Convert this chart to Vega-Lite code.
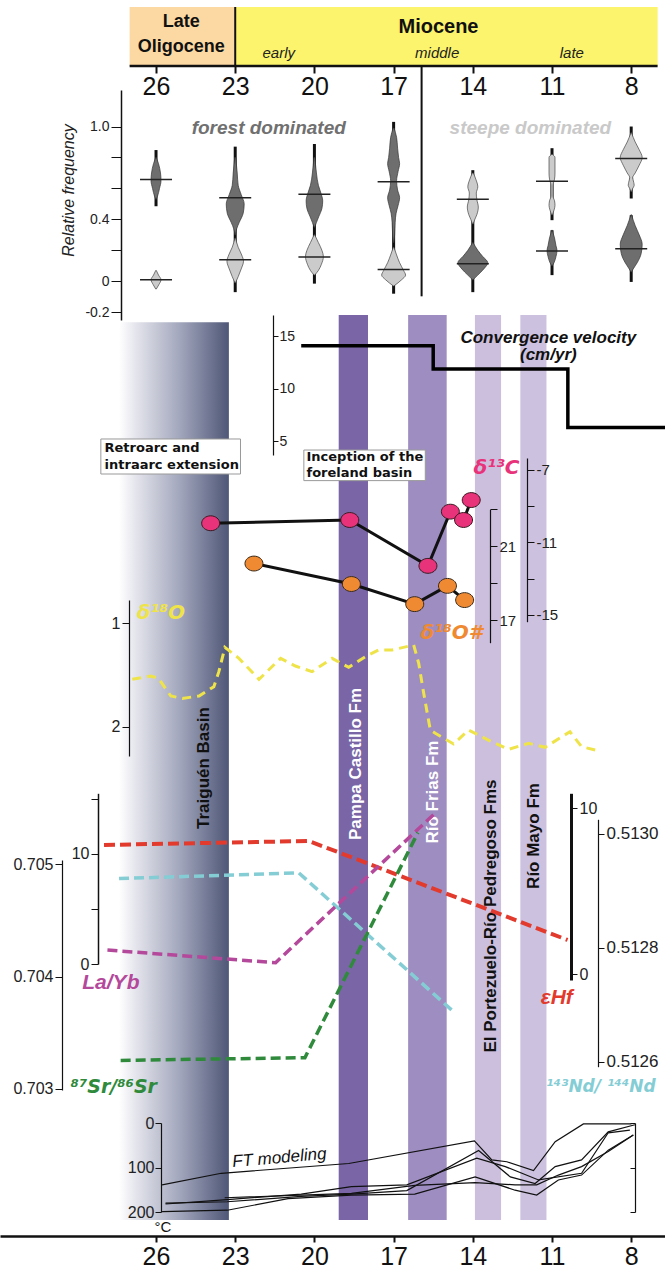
{
"$schema":"https://vega.github.io/schema/vega-lite/v6.json",
"width":665,"height":1272,"padding":0,"autosize":"none","background":"white",
"config":{"view":{"stroke":null},"axis":{"grid":false,"labelFont":"Liberation Sans","titleFont":"Liberation Sans","domainColor":"#111","tickColor":"#111","labelColor":"#222","title":null},"text":{"font":"Liberation Sans"}},
"datasets":{
"violD":[
{"g":"26","v":0.80,"lo":25.989,"hi":26.011},{"g":"26","v":0.76,"lo":25.905,"hi":26.095},{"g":"26","v":0.70,"lo":25.830,"hi":26.170},{"g":"26","v":0.65,"lo":25.811,"hi":26.189},{"g":"26","v":0.60,"lo":25.868,"hi":26.132},{"g":"26","v":0.55,"lo":25.943,"hi":26.057},{"g":"26","v":0.53,"lo":25.989,"hi":26.011},
{"g":"23","v":0.80,"lo":22.981,"hi":23.019},{"g":"23","v":0.70,"lo":22.924,"hi":23.076},{"g":"23","v":0.62,"lo":22.887,"hi":23.113},{"g":"23","v":0.56,"lo":22.773,"hi":23.227},{"g":"23","v":0.50,"lo":22.660,"hi":23.340},{"g":"23","v":0.44,"lo":22.697,"hi":23.303},{"g":"23","v":0.38,"lo":22.849,"hi":23.151},{"g":"23","v":0.34,"lo":22.943,"hi":23.057},{"g":"23","v":0.30,"lo":22.989,"hi":23.011},
{"g":"20","v":0.80,"lo":19.981,"hi":20.019},{"g":"20","v":0.70,"lo":19.924,"hi":20.076},{"g":"20","v":0.62,"lo":19.849,"hi":20.151},{"g":"20","v":0.57,"lo":19.754,"hi":20.246},{"g":"20","v":0.52,"lo":19.686,"hi":20.314},{"g":"20","v":0.47,"lo":19.716,"hi":20.284},{"g":"20","v":0.42,"lo":19.830,"hi":20.170},{"g":"20","v":0.38,"lo":19.924,"hi":20.076},{"g":"20","v":0.35,"lo":19.989,"hi":20.011},
{"g":"17","v":0.99,"lo":16.981,"hi":17.019},{"g":"17","v":0.93,"lo":16.887,"hi":17.113},{"g":"17","v":0.86,"lo":16.849,"hi":17.151},{"g":"17","v":0.80,"lo":16.811,"hi":17.189},{"g":"17","v":0.76,"lo":16.773,"hi":17.227},{"g":"17","v":0.71,"lo":16.830,"hi":17.170},{"g":"17","v":0.65,"lo":16.887,"hi":17.113},{"g":"17","v":0.59,"lo":16.849,"hi":17.151},{"g":"17","v":0.54,"lo":16.773,"hi":17.227},{"g":"17","v":0.49,"lo":16.830,"hi":17.170},{"g":"17","v":0.44,"lo":16.905,"hi":17.095},{"g":"17","v":0.38,"lo":16.943,"hi":17.057},{"g":"17","v":0.30,"lo":16.962,"hi":17.038},{"g":"17","v":0.25,"lo":16.989,"hi":17.011},
{"g":"14","v":0.25,"lo":13.989,"hi":14.011},{"g":"14","v":0.20,"lo":13.811,"hi":14.189},{"g":"14","v":0.16,"lo":13.622,"hi":14.378},{"g":"14","v":0.12,"lo":13.433,"hi":14.567},{"g":"14","v":0.08,"lo":13.584,"hi":14.416},{"g":"14","v":0.04,"lo":13.811,"hi":14.189},{"g":"14","v":0.01,"lo":13.989,"hi":14.011},
{"g":"11","v":0.33,"lo":10.989,"hi":11.011},{"g":"11","v":0.28,"lo":10.905,"hi":11.095},{"g":"11","v":0.23,"lo":10.849,"hi":11.151},{"g":"11","v":0.20,"lo":10.811,"hi":11.189},{"g":"11","v":0.16,"lo":10.849,"hi":11.151},{"g":"11","v":0.12,"lo":10.924,"hi":11.076},{"g":"11","v":0.10,"lo":10.989,"hi":11.011},
{"g":"8","v":0.43,"lo":7.989,"hi":8.011},{"g":"8","v":0.36,"lo":7.849,"hi":8.151},{"g":"8","v":0.30,"lo":7.697,"hi":8.303},{"g":"8","v":0.24,"lo":7.584,"hi":8.416},{"g":"8","v":0.18,"lo":7.622,"hi":8.378},{"g":"8","v":0.12,"lo":7.773,"hi":8.227},{"g":"8","v":0.08,"lo":7.924,"hi":8.076},{"g":"8","v":0.06,"lo":7.989,"hi":8.011}
],
"violL":[
{"g":"26","v":0.07,"lo":25.989,"hi":26.011},{"g":"26","v":0.04,"lo":25.905,"hi":26.095},{"g":"26","v":0.01,"lo":25.811,"hi":26.189},{"g":"26","v":-0.02,"lo":25.887,"hi":26.113},{"g":"26","v":-0.05,"lo":25.989,"hi":26.011},
{"g":"23","v":0.28,"lo":22.989,"hi":23.011},{"g":"23","v":0.22,"lo":22.887,"hi":23.113},{"g":"23","v":0.17,"lo":22.754,"hi":23.246},{"g":"23","v":0.13,"lo":22.686,"hi":23.314},{"g":"23","v":0.08,"lo":22.773,"hi":23.227},{"g":"23","v":0.03,"lo":22.887,"hi":23.113},{"g":"23","v":-0.01,"lo":22.989,"hi":23.011},
{"g":"20","v":0.30,"lo":19.989,"hi":20.011},{"g":"20","v":0.25,"lo":19.849,"hi":20.151},{"g":"20","v":0.20,"lo":19.716,"hi":20.284},{"g":"20","v":0.16,"lo":19.660,"hi":20.340},{"g":"20","v":0.11,"lo":19.735,"hi":20.265},{"g":"20","v":0.07,"lo":19.849,"hi":20.151},{"g":"20","v":0.04,"lo":19.989,"hi":20.011},
{"g":"17","v":0.22,"lo":16.989,"hi":17.011},{"g":"17","v":0.17,"lo":16.887,"hi":17.113},{"g":"17","v":0.12,"lo":16.773,"hi":17.227},{"g":"17","v":0.07,"lo":16.622,"hi":17.378},{"g":"17","v":0.04,"lo":16.546,"hi":17.454},{"g":"17","v":0.01,"lo":16.697,"hi":17.303},{"g":"17","v":-0.03,"lo":16.989,"hi":17.011},
{"g":"14","v":0.70,"lo":13.981,"hi":14.019},{"g":"14","v":0.66,"lo":13.887,"hi":14.113},{"g":"14","v":0.61,"lo":13.811,"hi":14.189},{"g":"14","v":0.57,"lo":13.868,"hi":14.132},{"g":"14","v":0.53,"lo":13.849,"hi":14.151},{"g":"14","v":0.48,"lo":13.792,"hi":14.208},{"g":"14","v":0.43,"lo":13.849,"hi":14.151},{"g":"14","v":0.40,"lo":13.924,"hi":14.076},{"g":"14","v":0.37,"lo":13.989,"hi":14.011},
{"g":"11","v":0.82,"lo":10.981,"hi":11.019},{"g":"11","v":0.80,"lo":10.887,"hi":11.113},{"g":"11","v":0.70,"lo":10.887,"hi":11.113},{"g":"11","v":0.66,"lo":10.905,"hi":11.095},{"g":"11","v":0.62,"lo":10.962,"hi":11.038},{"g":"11","v":0.55,"lo":10.962,"hi":11.038},{"g":"11","v":0.52,"lo":10.905,"hi":11.095},{"g":"11","v":0.49,"lo":10.887,"hi":11.113},{"g":"11","v":0.46,"lo":10.924,"hi":11.076},{"g":"11","v":0.43,"lo":10.981,"hi":11.019},
{"g":"8","v":0.96,"lo":7.989,"hi":8.011},{"g":"8","v":0.90,"lo":7.849,"hi":8.151},{"g":"8","v":0.85,"lo":7.697,"hi":8.303},{"g":"8","v":0.80,"lo":7.584,"hi":8.416},{"g":"8","v":0.75,"lo":7.697,"hi":8.303},{"g":"8","v":0.70,"lo":7.849,"hi":8.151},{"g":"8","v":0.67,"lo":7.943,"hi":8.057},{"g":"8","v":0.64,"lo":7.905,"hi":8.095},{"g":"8","v":0.62,"lo":7.887,"hi":8.113},{"g":"8","v":0.60,"lo":7.943,"hi":8.057},{"g":"8","v":0.58,"lo":7.989,"hi":8.011}
],
"whisk":[{"age":26,"top":0.848,"bottom":0.485},{"age":23,"top":0.87,"bottom":-0.07},{"age":20,"top":0.887,"bottom":-0.015},{"age":17,"top":1.03,"bottom":-0.08},{"age":14,"top":0.718,"bottom":-0.07},{"age":11,"top":0.86,"bottom":0.395},{"age":11,"top":0.33,"bottom":0.04},{"age":8,"top":1.0,"bottom":0.535},{"age":8,"top":0.427,"bottom":-0.004}],
"med":[{"age":26,"v":0.658},{"age":26,"v":0.01},{"age":23,"v":0.54},{"age":23,"v":0.14},{"age":20,"v":0.563},{"age":20,"v":0.157},{"age":17,"v":0.643},{"age":17,"v":0.076},{"age":14,"v":0.53},{"age":14,"v":0.114},{"age":11,"v":0.647},{"age":11,"v":0.196},{"age":8,"v":0.794},{"age":8,"v":0.21}],
"fms":[{"name":"Pampa Castillo Fm","age":19.08,"age2":17.97},{"name":"Río Frias Fm","age":16.45,"age2":14.99},{"name":"El Portezuelo-Río Pedregoso Fms","age":13.92,"age2":12.93},{"name":"Río Mayo Fm","age":12.2,"age2":11.21}],
"conv":[{"i":1,"age":20.5,"v":14.08},{"i":2,"age":15.5,"v":14.08},{"i":3,"age":15.5,"v":11.86},{"i":4,"age":10.4,"v":11.86},{"i":5,"age":10.4,"v":6.3},{"i":6,"age":6.72,"v":6.3}],
"d13":[{"age":23.93,"v":-9.94},{"age":18.66,"v":-9.76},{"age":15.70,"v":-12.29},{"age":14.85,"v":-9.30},{"age":14.35,"v":-9.76},{"age":14.06,"v":-8.66}],
"d18h":[{"age":22.29,"v":20.06},{"age":18.6,"v":18.95},{"age":16.2,"v":17.86},{"age":14.96,"v":18.85},{"age":14.31,"v":18.08}],
"d18":[{"age":26.90,"v":1.542},{"age":26.20,"v":1.510},{"age":25.91,"v":1.532},{"age":25.44,"v":1.703},{"age":25.00,"v":1.726},{"age":24.37,"v":1.703},{"age":23.81,"v":1.613},{"age":23.62,"v":1.468},{"age":23.39,"v":1.232},{"age":22.86,"v":1.339},{"age":22.10,"v":1.542},{"age":21.28,"v":1.339},{"age":20.72,"v":1.413},{"age":20.09,"v":1.468},{"age":19.33,"v":1.339},{"age":18.70,"v":1.426},{"age":18.07,"v":1.323},{"age":17.57,"v":1.258},{"age":17.06,"v":1.258},{"age":16.24,"v":1.210},{"age":16.05,"v":1.387},{"age":15.86,"v":1.677},{"age":15.61,"v":2.032},{"age":15.42,"v":2.064},{"age":14.73,"v":2.167},{"age":14.16,"v":2.032},{"age":13.41,"v":2.129},{"age":12.65,"v":2.219},{"age":11.89,"v":2.161},{"age":11.26,"v":2.199},{"age":10.32,"v":2.048},{"age":9.88,"v":2.193},{"age":9.25,"v":2.232}],
"hf":[{"age":27.97,"v":7.79},{"age":20.21,"v":8.03},{"age":10.41,"v":2.07}],
"nd":[{"age":27.40,"v":0.512921},{"age":20.59,"v":0.512931},{"age":14.79,"v":0.51269}],
"layb":[{"age":27.84,"v":1.27},{"age":21.47,"v":0.12},{"age":15.49,"v":13.55}],
"sr":[{"age":27.34,"v":0.703254},{"age":20.36,"v":0.703278},{"age":16.08,"v":0.705284}],
"ft":[
{"id":1,"age":25.77,"T":139},{"id":1,"age":23.53,"T":113},{"id":1,"age":18.7,"T":91},{"id":1,"age":13.94,"T":40},{"id":1,"age":13.28,"T":83},{"id":1,"age":12.71,"T":87},{"id":1,"age":11.7,"T":107},{"id":1,"age":10.88,"T":42},{"id":1,"age":9.81,"T":2},{"id":1,"age":7.99,"T":2},
{"id":2,"age":25.64,"T":180},{"id":2,"age":23.3,"T":177},{"id":2,"age":20.5,"T":165},{"id":2,"age":18.6,"T":160},{"id":2,"age":16.5,"T":152},{"id":2,"age":13.78,"T":62},{"id":2,"age":12.58,"T":121},{"id":2,"age":11.64,"T":136},{"id":2,"age":10.88,"T":98},{"id":2,"age":9.88,"T":83},{"id":2,"age":8.87,"T":20},{"id":2,"age":7.86,"T":4},
{"id":3,"age":25.64,"T":182},{"id":3,"age":23.3,"T":172},{"id":3,"age":20.5,"T":160},{"id":3,"age":18.6,"T":143},{"id":3,"age":16.5,"T":139},{"id":3,"age":13.85,"T":79},{"id":3,"age":12.77,"T":98},{"id":3,"age":11.51,"T":128},{"id":3,"age":9.88,"T":113},{"id":3,"age":8.87,"T":22},{"id":3,"age":8.05,"T":16},
{"id":4,"age":25.77,"T":199},{"id":4,"age":23.3,"T":196},{"id":4,"age":21.0,"T":170},{"id":4,"age":18.6,"T":162},{"id":4,"age":16.2,"T":160},{"id":4,"age":13.91,"T":121},{"id":4,"age":12.4,"T":151},{"id":4,"age":11.58,"T":162},{"id":4,"age":10.76,"T":128},{"id":4,"age":9.88,"T":117},{"id":4,"age":8.87,"T":61},{"id":4,"age":7.92,"T":27},
{"id":5,"age":23.4,"T":168},{"id":5,"age":20.5,"T":162},{"id":5,"age":18.6,"T":158},{"id":5,"age":16.2,"T":140},{"id":5,"age":13.91,"T":134},{"id":5,"age":12.4,"T":139},{"id":5,"age":11.58,"T":139},{"id":5,"age":10.76,"T":117},{"id":5,"age":9.88,"T":98},{"id":5,"age":8.87,"T":64},{"id":5,"age":7.92,"T":27}
]
},
"encoding":{"x":{"field":"age","type":"quantitative","scale":{"domain":[6.72,31.91],"reverse":true,"nice":false,"zero":false},"axis":null}},
"layer":[
{"data":{"values":[{"name":"Traiguén Basin","age":27.4,"age2":23.24}]},
 "mark":{"type":"rect","fill":{"gradient":"linear","x1":0,"y1":0,"x2":1,"y2":0,"stops":[{"offset":0,"color":"#ffffff"},{"offset":0.2,"color":"#dcdde6"},{"offset":0.55,"color":"#a3a7bd"},{"offset":1,"color":"#4f5777"}]}},
 "encoding":{"x2":{"field":"age2"},"y":{"datum":0,"type":"quantitative","scale":{"domain":[0,1],"range":[1220,315],"nice":false,"zero":false},"axis":null},"y2":{"datum":0.992}}},
{"data":{"name":"fms"},"mark":{"type":"rect"},
 "encoding":{"x2":{"field":"age2"},"y":{"datum":0,"type":"quantitative","scale":{"domain":[0,1],"range":[1220,315],"nice":false,"zero":false},"axis":null},"y2":{"datum":1},
 "color":{"field":"name","type":"nominal","scale":{"domain":["Pampa Castillo Fm","Río Frias Fm","El Portezuelo-Río Pedregoso Fms","Río Mayo Fm"],"range":["#7a66a6","#9e8dc1","#cbbfdd","#ccc1de"]},"legend":null}}},
{"data":{"values":[{"t":"Traiguén Basin","age":24.18,"f":0.4994},{"t":"El Portezuelo-Río Pedregoso Fms","age":13.31,"f":0.3359},{"t":"Río Mayo Fm","age":11.67,"f":0.4243}]},
 "mark":{"type":"text","angle":270,"align":"center","baseline":"middle","fontSize":17,"fontWeight":"bold","color":"#111"},
 "encoding":{"text":{"field":"t"},"y":{"field":"f","type":"quantitative","scale":{"domain":[0,1],"range":[1220,315],"nice":false,"zero":false},"axis":null}}},
{"data":{"values":[{"t":"Pampa Castillo Fm","age":18.44,"f":0.5039},{"t":"Río Frias Fm","age":15.49,"f":0.4729}]},
 "mark":{"type":"text","angle":270,"align":"center","baseline":"middle","fontSize":17,"fontWeight":"bold","color":"#ffffff"},
 "encoding":{"text":{"field":"t"},"y":{"field":"f","type":"quantitative","scale":{"domain":[0,1],"range":[1220,315],"nice":false,"zero":false},"axis":null}}},
{"data":{"name":"conv"},"mark":{"type":"line","color":"#000","strokeWidth":3.5,"strokeJoin":"miter"},
 "encoding":{"y":{"field":"v","type":"quantitative","scale":{"domain":[3.67,17],"range":[455,315],"nice":false,"zero":false},"axis":{"orient":"right","offset":-392,"values":[5,10,15],"tickSize":5,"labelFontSize":14,"labelPadding":1,"domainWidth":1.2,"zindex":1}},"order":{"field":"i","type":"quantitative"}}},
{"data":{"values":[{"t":"Convergence velocity","age":11.14,"v":14.8},{"t":"(cm/yr)","age":11.14,"v":13.2}]},
 "mark":{"type":"text","align":"center","baseline":"middle","fontSize":17,"fontWeight":"bold","fontStyle":"italic","color":"#111"},
 "encoding":{"text":{"field":"t"},"y":{"field":"v","type":"quantitative","scale":{"domain":[3.67,17],"range":[455,315],"nice":false,"zero":false},"axis":null}}},
{"data":{"values":[{"age":28.09,"age2":22.80,"f":0.863,"f2":0.8243},{"age":20.40,"age2":15.80,"f":0.8508,"f2":0.8170}]},
 "mark":{"type":"rect","fill":"#ffffff","stroke":"#999999","strokeWidth":1},
 "encoding":{"x2":{"field":"age2"},"y":{"field":"f","type":"quantitative","scale":{"domain":[0,1],"range":[1220,315],"nice":false,"zero":false},"axis":null},"y2":{"field":"f2"}}},
{"data":{"values":[{"t":"Retroarc and","age":27.95,"f":0.853},{"t":"intraarc extension","age":27.95,"f":0.834},{"t":"Inception of the","age":20.3,"f":0.8434},{"t":"foreland basin","age":20.3,"f":0.8251}]},
 "mark":{"type":"text","align":"left","baseline":"middle","fontSize":13,"fontWeight":"bold","font":"DejaVu Sans","color":"#111"},
 "encoding":{"text":{"field":"t"},"y":{"field":"f","type":"quantitative","scale":{"domain":[0,1],"range":[1220,315],"nice":false,"zero":false},"axis":null}}},
{"data":{"name":"d13"},"mark":{"type":"line","color":"#111","strokeWidth":3},
 "encoding":{"y":{"field":"v","type":"quantitative","scale":{"domain":[-15.37,-6.34],"range":[621.7,458],"nice":false,"zero":false},"axis":{"orient":"right","offset":-138,"values":[-15,-13,-11,-9,-7],"labelExpr":"datum.value == -7 ? '-7' : datum.value == -11 ? '-11' : datum.value == -15 ? '-15' : ''","tickSize":7,"labelFontSize":15,"labelPadding":2,"domainWidth":1.2,"zindex":1}}}},
{"data":{"name":"d13"},"mark":{"type":"point","filled":true,"opacity":1,"size":245,"shape":"M-1.15,0A1.15,0.95 0 1,0 1.15,0A1.15,0.95 0 1,0 -1.15,0Z","fill":"#e8337a","stroke":"#3a1a22","strokeWidth":1},
 "encoding":{"y":{"field":"v","type":"quantitative","scale":{"domain":[-15.37,-6.34],"range":[621.7,458],"nice":false,"zero":false},"axis":null}}},
{"data":{"name":"d18h"},"mark":{"type":"line","color":"#111","strokeWidth":3},
 "encoding":{"y":{"field":"v","type":"quantitative","scale":{"domain":[15.77,23],"range":[642.7,509.3],"nice":false,"zero":false},"axis":{"orient":"right","offset":-175,"values":[17,19,21,23],"labelExpr":"datum.value == 21 || datum.value == 17 ? datum.label : ''","tickSize":7,"labelFontSize":15,"labelPadding":2,"domainWidth":1.2,"zindex":1}}}},
{"data":{"name":"d18h"},"mark":{"type":"point","filled":true,"opacity":1,"size":245,"shape":"M-1.15,0A1.15,0.95 0 1,0 1.15,0A1.15,0.95 0 1,0 -1.15,0Z","fill":"#f08a32","stroke":"#3a2a1a","strokeWidth":1},
 "encoding":{"y":{"field":"v","type":"quantitative","scale":{"domain":[15.77,23],"range":[642.7,509.3],"nice":false,"zero":false},"axis":null}}},
{"data":{"values":[{"t":"δ¹³C","age":13.1,"v":-6.89}]},
 "mark":{"type":"text","align":"center","baseline":"middle","fontSize":20,"font":"DejaVu Sans","fontWeight":"bold","fontStyle":"italic","color":"#e8337a"},
 "encoding":{"text":{"field":"t"},"y":{"field":"v","type":"quantitative","scale":{"domain":[-15.37,-6.34],"range":[621.7,458],"nice":false,"zero":false},"axis":null}}},
{"data":{"values":[{"t":"δ¹⁸O#","age":14.8,"v":16.3}]},
 "mark":{"type":"text","align":"center","baseline":"middle","fontSize":20,"font":"DejaVu Sans","fontWeight":"bold","fontStyle":"italic","color":"#f08a32"},
 "encoding":{"text":{"field":"t"},"y":{"field":"v","type":"quantitative","scale":{"domain":[15.77,23],"range":[642.7,509.3],"nice":false,"zero":false},"axis":null}}},
{"data":{"name":"d18"},"mark":{"type":"line","color":"#efe34a","strokeWidth":3,"strokeDash":[9,6]},
 "encoding":{"y":{"field":"v","type":"quantitative","scale":{"domain":[0.775,2.283],"range":[600,756],"nice":false,"zero":false},"axis":{"orient":"left","offset":-129,"values":[1,2],"tickSize":7,"labelFontSize":16,"labelPadding":2,"domainWidth":1.2,"zindex":1}}}},
{"data":{"values":[{"t":"δ¹⁸O","age":25.82,"v":0.897}]},
 "mark":{"type":"text","align":"center","baseline":"middle","fontSize":20,"font":"DejaVu Sans","fontWeight":"bold","fontStyle":"italic","color":"#efe34a"},
 "encoding":{"text":{"field":"t"},"y":{"field":"v","type":"quantitative","scale":{"domain":[0.775,2.283],"range":[600,756],"nice":false,"zero":false},"axis":null}}},
{"data":{"name":"hf"},"mark":{"type":"line","color":"#e23b2e","strokeWidth":4,"strokeDash":[11,5]},
 "encoding":{"y":{"field":"v","type":"quantitative","scale":{"domain":[-0.34,10.9],"range":[980,793.3],"nice":false,"zero":false},"axis":{"orient":"right","offset":-94,"values":[0,10],"tickSize":6,"labelFontSize":16,"labelPadding":2,"domainWidth":3,"zindex":1}}}},
{"data":{"name":"nd"},"mark":{"type":"line","color":"#84cdd5","strokeWidth":3.5,"strokeDash":[10,5]},
 "encoding":{"y":{"field":"v","type":"quantitative","scale":{"domain":[0.512591,0.513025],"range":[1066.7,819.3],"nice":false,"zero":false},"axis":{"orient":"right","offset":-67,"values":[0.5126,0.5128,0.513],"format":".4f","tickSize":6,"labelFontSize":17,"labelPadding":2,"domainWidth":1.2,"zindex":1}}}},
{"data":{"name":"layb"},"mark":{"type":"line","color":"#b4489b","strokeWidth":3.5,"strokeDash":[10,5]},
 "encoding":{"y":{"field":"v","type":"quantitative","scale":{"domain":[0,15.5],"range":[964,793.3],"nice":false,"zero":false},"axis":{"orient":"left","offset":-98,"values":[0,5,10,15],"labelExpr":"datum.value == 0 || datum.value == 10 ? datum.label : ''","tickSize":7,"labelFontSize":16,"labelPadding":2,"domainWidth":1.5,"zindex":1}}}},
{"data":{"name":"sr"},"mark":{"type":"line","color":"#2f8a3c","strokeWidth":3.5,"strokeDash":[10,5]},
 "encoding":{"y":{"field":"v","type":"quantitative","scale":{"domain":[0.70299,0.70504],"range":[1090,860],"nice":false,"zero":false},"axis":{"orient":"left","offset":-62,"values":[0.703,0.704,0.705],"format":".3f","tickSize":7,"labelFontSize":16,"labelPadding":2,"domainWidth":1.2,"zindex":1}}}},
{"data":{"values":[{"t":"La/Yb","age":27.71,"v":-1.75}]},
 "mark":{"type":"text","align":"center","baseline":"middle","fontSize":21,"fontWeight":"bold","fontStyle":"italic","color":"#b4489b"},
 "encoding":{"text":{"field":"t"},"y":{"field":"v","type":"quantitative","scale":{"domain":[0,15.5],"range":[964,793.3],"nice":false,"zero":false},"axis":null}}},
{"data":{"values":[{"t":"⁸⁷Sr/⁸⁶Sr","age":27.6,"v":0.70302}]},
 "mark":{"type":"text","align":"center","baseline":"middle","fontSize":19,"font":"DejaVu Sans","fontWeight":"bold","fontStyle":"italic","color":"#2f8a3c"},
 "encoding":{"text":{"field":"t"},"y":{"field":"v","type":"quantitative","scale":{"domain":[0.70299,0.70504],"range":[1090,860],"nice":false,"zero":false},"axis":null}}},
{"data":{"values":[{"t":"εHf","age":10.82,"v":-1.45}]},
 "mark":{"type":"text","align":"center","baseline":"middle","fontSize":21,"fontWeight":"bold","fontStyle":"italic","color":"#e23b2e"},
 "encoding":{"text":{"field":"t"},"y":{"field":"v","type":"quantitative","scale":{"domain":[-0.34,10.9],"range":[980,793.3],"nice":false,"zero":false},"axis":null}}},
{"data":{"values":[{"t":"¹⁴³Nd/ ¹⁴⁴Nd","age":9.15,"v":0.512555}]},
 "mark":{"type":"text","align":"center","baseline":"middle","fontSize":17,"font":"DejaVu Sans","fontWeight":"bold","fontStyle":"italic","color":"#84cdd5"},
 "encoding":{"text":{"field":"t"},"y":{"field":"v","type":"quantitative","scale":{"domain":[0.512591,0.513025],"range":[1066.7,819.3],"nice":false,"zero":false},"axis":null}}},
{"data":{"name":"ft"},"mark":{"type":"line","color":"#111","strokeWidth":1.2},
 "encoding":{"x":{"field":"age","type":"quantitative","scale":{"domain":[6.72,31.91],"reverse":true,"nice":false,"zero":false},"axis":{"orient":"bottom","offset":-36,"values":[26,23,20,17,14,11,8],"tickSize":6,"tickWidth":2,"domainWidth":2.5,"labelFontSize":25,"labelPadding":2,"labelFlush":false,"labelOverlap":false,"labelColor":"#111","zindex":1}},
 "y":{"field":"T","type":"quantitative","scale":{"domain":[0,200],"range":[1123,1212],"nice":false,"zero":false},"axis":{"orient":"left","offset":-161,"values":[0,100,200],"tickSize":6,"labelFontSize":16,"labelPadding":1,"domainWidth":1.2,"zindex":1}},"detail":{"field":"id"}}},
{"data":{"values":[{"t":"°C","age":25.74,"T":233.7}]},
 "mark":{"type":"text","align":"center","baseline":"middle","fontSize":15,"color":"#111"},
 "encoding":{"text":{"field":"t"},"y":{"field":"T","type":"quantitative","scale":{"domain":[0,200],"range":[1123,1212],"nice":false,"zero":false},"axis":{"orient":"left","offset":-635,"values":[0,100,200],"labels":false,"tickSize":5,"domainWidth":1.2,"zindex":1}}}},
{"data":{"values":[{"t":"FT modeling","age":21.33,"T":78.7}]},
 "mark":{"type":"text","align":"center","baseline":"middle","fontSize":17,"fontStyle":"italic","angle":355,"color":"#111"},
 "encoding":{"text":{"field":"t"},"y":{"field":"T","type":"quantitative","scale":{"domain":[0,200],"range":[1123,1212],"nice":false,"zero":false},"axis":null}}},
{"data":{"values":[{"period":"Late Oligocene","age":27.0,"age2":23.0},{"period":"Miocene","age":23.0,"age2":7.0}]},
 "mark":{"type":"rect"},
 "encoding":{"x":{"field":"age","type":"quantitative","scale":{"domain":[6.72,31.91],"reverse":true,"nice":false,"zero":false},"axis":{"orient":"bottom","offset":-1206,"values":[26,23,20,17,14,11,8],"domain":false,"tickSize":7,"tickWidth":2,"labelFontSize":25,"labelPadding":1,"labelFlush":false,"labelOverlap":false,"labelColor":"#111","zindex":1}},
 "x2":{"field":"age2"},"y":{"datum":0,"type":"quantitative","scale":{"domain":[0,1],"range":[66,7],"nice":false,"zero":false},"axis":null},"y2":{"datum":1},
 "color":{"field":"period","type":"nominal","scale":{"domain":["Late Oligocene","Miocene"],"range":["#fcd9a2","#fcf46d"]},"legend":null}}},
{"data":{"values":[{"age":27.0,"age2":7.0}]},"mark":{"type":"rule","color":"#111","strokeWidth":2.5},
 "encoding":{"x2":{"field":"age2"},"y":{"datum":0,"type":"quantitative","scale":{"domain":[0,1],"range":[66,7],"nice":false,"zero":false},"axis":null}}},
{"data":{"values":[{"age":23.0}]},"mark":{"type":"rule","color":"#111","strokeWidth":2},
 "encoding":{"y":{"datum":0,"type":"quantitative","scale":{"domain":[0,1],"range":[66,7],"nice":false,"zero":false},"axis":null},"y2":{"datum":1}}},
{"data":{"values":[{"t":"Late","age":25.04,"h":0.751},{"t":"Oligocene","age":25.04,"h":0.327}]},
 "mark":{"type":"text","align":"center","baseline":"middle","fontSize":18,"fontWeight":"bold","color":"#111"},
 "encoding":{"text":{"field":"t"},"y":{"field":"h","type":"quantitative","scale":{"domain":[0,1],"range":[66,7],"nice":false,"zero":false},"axis":null}}},
{"data":{"values":[{"t":"Miocene","age":15.30,"h":0.661}]},
 "mark":{"type":"text","align":"center","baseline":"middle","fontSize":20,"fontWeight":"bold","color":"#111"},
 "encoding":{"text":{"field":"t"},"y":{"field":"h","type":"quantitative","scale":{"domain":[0,1],"range":[66,7],"nice":false,"zero":false},"axis":null}}},
{"data":{"values":[{"t":"early","age":21.35,"h":0.22},{"t":"middle","age":15.35,"h":0.22},{"t":"late","age":10.25,"h":0.22}]},
 "mark":{"type":"text","align":"center","baseline":"middle","fontSize":15,"fontStyle":"italic","color":"#222"},
 "encoding":{"text":{"field":"t"},"y":{"field":"h","type":"quantitative","scale":{"domain":[0,1],"range":[66,7],"nice":false,"zero":false},"axis":null}}},
{"data":{"name":"whisk"},"mark":{"type":"rule","color":"#111","strokeWidth":3},
 "encoding":{"y":{"field":"top","type":"quantitative","scale":{"domain":[-0.25,1.236],"range":[320,90],"nice":false,"zero":false},"axis":{"orient":"left","offset":-121,"values":[-0.2,0,0.2,0.4,0.6,0.8,1],"labelExpr":"datum.value == 1 ? '1.0' : datum.value == 0.4 ? '0.4' : datum.value == 0 ? '0' : datum.value == -0.2 ? '-0.2' : ''","tickSize":10,"labelFontSize":14,"labelPadding":2,"domainWidth":1.5,"title":"Relative frequency","titleFontStyle":"italic","titleFontWeight":"normal","titleFontSize":16,"titleColor":"#222","titlePadding":8,"titleY":190,"zindex":1}},"y2":{"field":"bottom"}}},
{"data":{"name":"violD"},"mark":{"type":"area","orient":"horizontal","color":"#6e6e6e","stroke":"#333333","strokeWidth":0.7,"interpolate":"monotone"},
 "encoding":{"x":{"field":"lo","type":"quantitative","scale":{"domain":[6.72,31.91],"reverse":true,"nice":false,"zero":false},"axis":null},"x2":{"field":"hi"},"y":{"field":"v","type":"quantitative","scale":{"domain":[-0.25,1.236],"range":[320,90],"nice":false,"zero":false},"axis":null},"detail":{"field":"g"}}},
{"data":{"name":"violL"},"mark":{"type":"area","orient":"horizontal","color":"#cbcbcb","stroke":"#444444","strokeWidth":0.7,"interpolate":"monotone"},
 "encoding":{"x":{"field":"lo","type":"quantitative","scale":{"domain":[6.72,31.91],"reverse":true,"nice":false,"zero":false},"axis":null},"x2":{"field":"hi"},"y":{"field":"v","type":"quantitative","scale":{"domain":[-0.25,1.236],"range":[320,90],"nice":false,"zero":false},"axis":null},"detail":{"field":"g"}}},
{"data":{"name":"med"},"mark":{"type":"tick","orient":"horizontal","size":32,"thickness":1.5,"color":"#222","opacity":1},
 "encoding":{"y":{"field":"v","type":"quantitative","scale":{"domain":[-0.25,1.236],"range":[320,90],"nice":false,"zero":false},"axis":null}}},
{"data":{"values":[{"age":15.94,"top":1.39,"bottom":-0.097}]},"mark":{"type":"rule","color":"#111","strokeWidth":2},
 "encoding":{"y":{"field":"top","type":"quantitative","scale":{"domain":[-0.25,1.236],"range":[320,90],"nice":false,"zero":false},"axis":null},"y2":{"field":"bottom"}}},
{"data":{"values":[{"t":"forest dominated","age":21.73,"v":0.99}]},
 "mark":{"type":"text","align":"center","baseline":"middle","fontSize":19,"fontWeight":"bold","fontStyle":"italic","color":"#707070"},
 "encoding":{"text":{"field":"t"},"y":{"field":"v","type":"quantitative","scale":{"domain":[-0.25,1.236],"range":[320,90],"nice":false,"zero":false},"axis":null}}},
{"data":{"values":[{"t":"steepe dominated","age":11.82,"v":0.99}]},
 "mark":{"type":"text","align":"center","baseline":"middle","fontSize":19,"fontWeight":"bold","fontStyle":"italic","color":"#c9c9c9"},
 "encoding":{"text":{"field":"t"},"y":{"field":"v","type":"quantitative","scale":{"domain":[-0.25,1.236],"range":[320,90],"nice":false,"zero":false},"axis":null}}}
],
"resolve":{"scale":{"y":"independent","color":"independent"},"axis":{"x":"independent","y":"independent"}}
}
